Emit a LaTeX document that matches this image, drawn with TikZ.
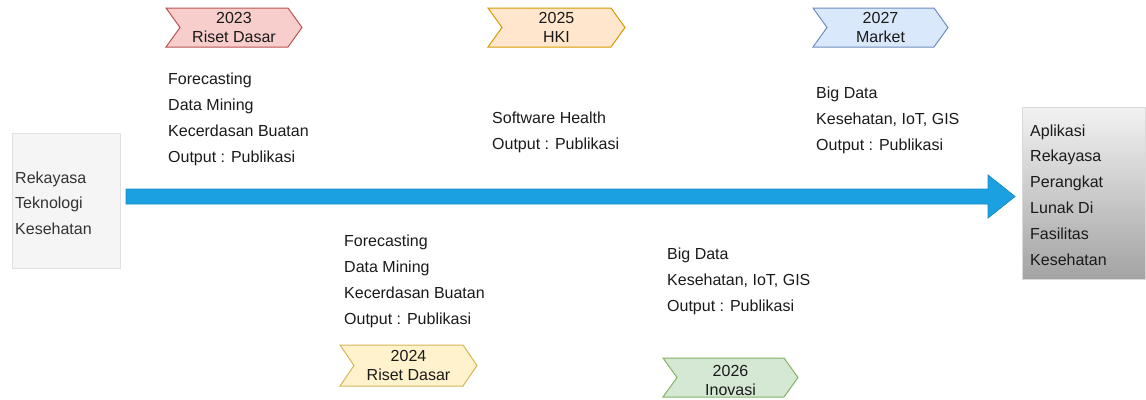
\documentclass[tikz,border=0pt]{standalone}
\usepackage{fontspec}
\setmainfont{Liberation Sans}
\usetikzlibrary{calc}
\definecolor{redF}{HTML}{F8CECC}\definecolor{redD}{HTML}{B85450}
\definecolor{orgF}{HTML}{FFE6CC}\definecolor{orgD}{HTML}{D79B00}
\definecolor{bluF}{HTML}{DAE8FC}\definecolor{bluD}{HTML}{6C8EBF}
\definecolor{yelF}{HTML}{FFF2CC}\definecolor{yelD}{HTML}{D6B656}
\definecolor{grnF}{HTML}{D5E8D4}\definecolor{grnD}{HTML}{82B366}
\definecolor{arrF}{HTML}{1BA1E2}\definecolor{arrD}{HTML}{1A8CC8}
\definecolor{txt}{HTML}{1A1A1A}
\newcommand\mkchev[5]{%
  \draw[#5,line width=1pt] (#1,#2) -- (#3-14,#2) -- (#3,{(#2+#4)/2}) -- (#3-14,#4) -- (#1,#4) -- (#1+14,{(#2+#4)/2}) -- cycle;}
\begin{document}
\begin{tikzpicture}[x=1pt,y=-1pt,
  every node/.style={text=txt,font=\fontsize{16}{26}\selectfont},
  chevtext/.style={anchor=base,align=center,inner sep=0pt,font=\fontsize{16}{19}\selectfont},
  blocktext/.style={anchor=base west,align=left,inner sep=0pt},
  sidebox/.style={anchor=north west,inner sep=0pt}]
\useasboundingbox (0,0) rectangle (1146,399);
% left box
\node[sidebox,draw=black!12,fill=black!4,minimum width=108pt,minimum height=135pt] (lbox) at (12,133) {};
\node[blocktext,text=black!80,font=\fontsize{16}{25.5}\selectfont] (ltext) at (15,234) {Rekayasa\\Teknologi\\Kesehatan};
% right box
\shade[top color=black!5,bottom color=black!36,draw=black!15] (1022,107) rectangle (1145,279);
\node[sidebox,minimum width=123pt,minimum height=172pt] (rbox) at (1022,107) {};
\node[blocktext,font=\fontsize{16}{25.8}\selectfont] (rtext) at (1030,265) {Aplikasi\\Rekayasa\\Perangkat\\Lunak Di\\Fasilitas\\Kesehatan};
% arrow
\coordinate (as) at (126,196.5);
\coordinate (ae) at (1015,196.5);
\draw[fill=arrF,draw=arrD,line width=0.8pt] ($(as)+(0,-7.5)$) -- ($(ae)+(-27,-7.5)$) -- ($(ae)+(-27,-21.5)$) -- (ae) -- ($(ae)+(-27,21.5)$) -- ($(ae)+(-27,7.5)$) -- ($(as)+(0,7.5)$) -- cycle;
% chevrons
\mkchev{166}{8}{302}{47}{fill=redF,draw=redD}
\node[chevtext] (c23) at (234,42) {2023\\Riset Dasar};
\mkchev{488}{8}{625}{47}{fill=orgF,draw=orgD}
\node[chevtext] (c25) at (556.5,42) {2025\\HKI};
\mkchev{813}{8}{948}{47}{fill=bluF,draw=bluD}
\node[chevtext] (c27) at (880.5,42) {2027\\Market};
\mkchev{340}{345}{477}{386}{fill=yelF,draw=yelD}
\node[chevtext] (c24) at (408.5,380) {2024\\Riset Dasar};
\mkchev{663}{358}{798}{397}{fill=grnF,draw=grnD}
\node[chevtext] (c26) at (730.5,395) {2026\\Inovasi};
% text blocks
\node[blocktext] (t23) at (168,162) {Forecasting\\Data Mining\\Kecerdasan Buatan\\Output : Publikasi};
\node[blocktext] (t25) at (492,149) {Software Health\\Output : Publikasi};
\node[blocktext] (t27) at (816,150) {Big Data\\Kesehatan, IoT, GIS\\Output : Publikasi};
\node[blocktext] (t24) at (344,324) {Forecasting\\Data Mining\\Kecerdasan Buatan\\Output : Publikasi};
\node[blocktext] (t26) at (667,311) {Big Data\\Kesehatan, IoT, GIS\\Output : Publikasi};
\end{tikzpicture}
\end{document}
